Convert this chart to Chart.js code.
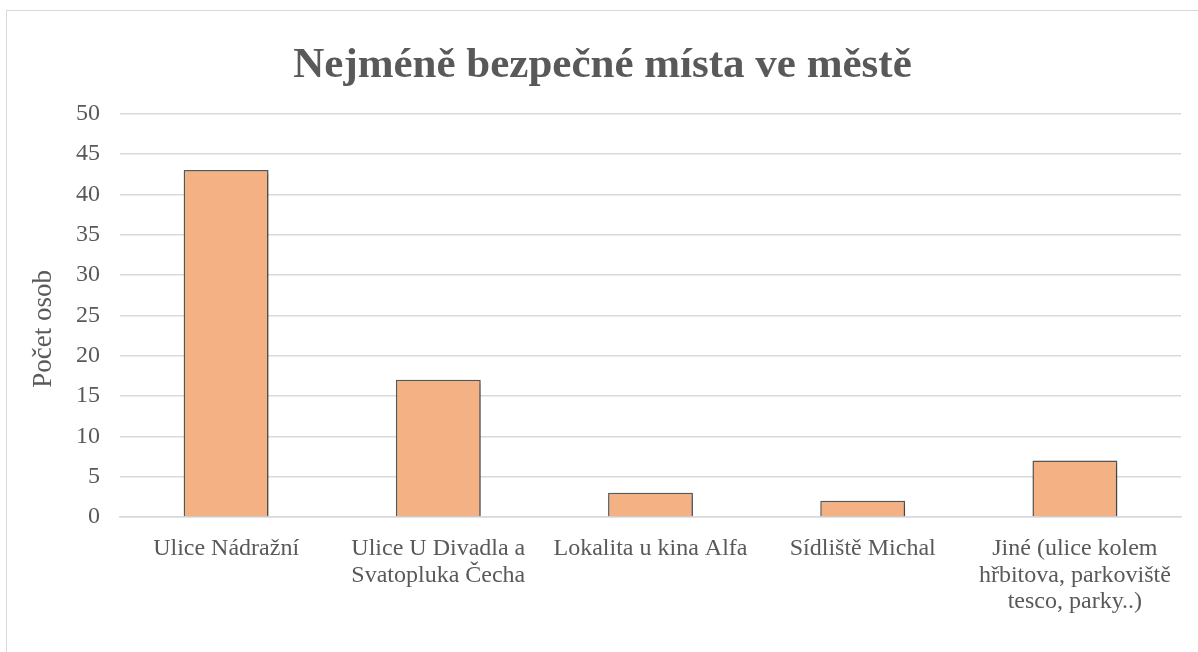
<!DOCTYPE html>
<html>
<head>
<meta charset="utf-8">
<script src="https://cdn.jsdelivr.net/npm/chart.js@4"></script>
<style>
  body { margin: 0; background: #fff; }
  .box {
    position: absolute; left: 6px; top: 10px;
    width: 1192px; height: 642px;
    border-left: 1px solid #d9d9d9; border-top: 1px solid #d9d9d9;
  }
</style>
</head>
<body>
<div class="box"><canvas id="chart" width="1191" height="641"></canvas></div>
<script>
const titleText = 'Nejméně bezpečné místa ve městě';
const axisTitle = 'Počet osob    ';
const categories = [
    'Ulice Nádražní',
    ['Ulice U Divadla a', 'Svatopluka Čecha'],
    'Lokalita u kina Alfa',
    'Sídliště Michal',
    ['Jiné (ulice kolem', 'hřbitova, parkoviště', 'tesco, parky..)']
];
const counts = [43, 17, 3, 2, 7];

const serif = '"Liberation Serif", "Times New Roman", serif';
const grey = '#595959';

// soft shadow behind the bars, like the office chart
const barShadow = {
    id: 'barShadow',
    beforeDatasetsDraw(chart) {
        const c = chart.ctx;
        c.save();
        c.shadowColor = 'rgba(0,0,0,0.35)';
        c.shadowBlur = 5;
        c.shadowOffsetX = 2;
        c.shadowOffsetY = 2;
    },
    afterDatasetsDraw(chart) {
        chart.ctx.restore();
    }
};

new Chart(document.getElementById('chart').getContext('2d'), {
    type: 'bar',
    data: {
        labels: categories,
        datasets: [{
            data: counts,
            backgroundColor: '#F4B183',
            borderColor: '#5a5a5a',
            borderWidth: 1.5,
            categoryPercentage: 1,
            barPercentage: 0.4
        }]
    },
    options: {
        responsive: false,
        animation: false,
        layout: { padding: { left: 0, right: 0, top: 0, bottom: 0 } },
        plugins: {
            legend: { display: false },
            tooltip: { enabled: false },
            title: {
                display: true,
                text: titleText,
                color: grey,
                font: { family: serif, size: 43, weight: 'bold' },
                padding: { top: 29, bottom: 22 }
            }
        },
        scales: {
            x: {
                grid: { display: false, drawTicks: false },
                border: { display: true, color: '#d9d9d9', width: 1.5 },
                ticks: {
                    color: grey,
                    font: { family: serif, size: 24, lineHeight: 1.1 },
                    padding: 19,
                    maxRotation: 0,
                    autoSkip: false
                },
                afterFit(scale) { scale.height = 135; }
            },
            y: {
                min: 0,
                max: 50,
                grid: { color: '#d9d9d9', lineWidth: 1.5, drawTicks: false },
                border: { display: false },
                ticks: {
                    stepSize: 5,
                    color: grey,
                    font: { family: serif, size: 24 },
                    padding: 20
                },
                title: {
                    display: true,
                    text: axisTitle,
                    color: grey,
                    font: { family: serif, size: 27 },
                    padding: { top: 21, bottom: 0 }
                },
                afterFit(scale) { scale.width = 113; }
            },
            // empty strip on the right so the plot stops short of the edge
            yRight: {
                position: 'right',
                display: true,
                grid: { display: false, drawTicks: false },
                border: { display: false },
                ticks: { display: false },
                afterFit(scale) { scale.width = 17; }
            }
        }
    },
    plugins: [barShadow]
});
</script>
</body>
</html>
